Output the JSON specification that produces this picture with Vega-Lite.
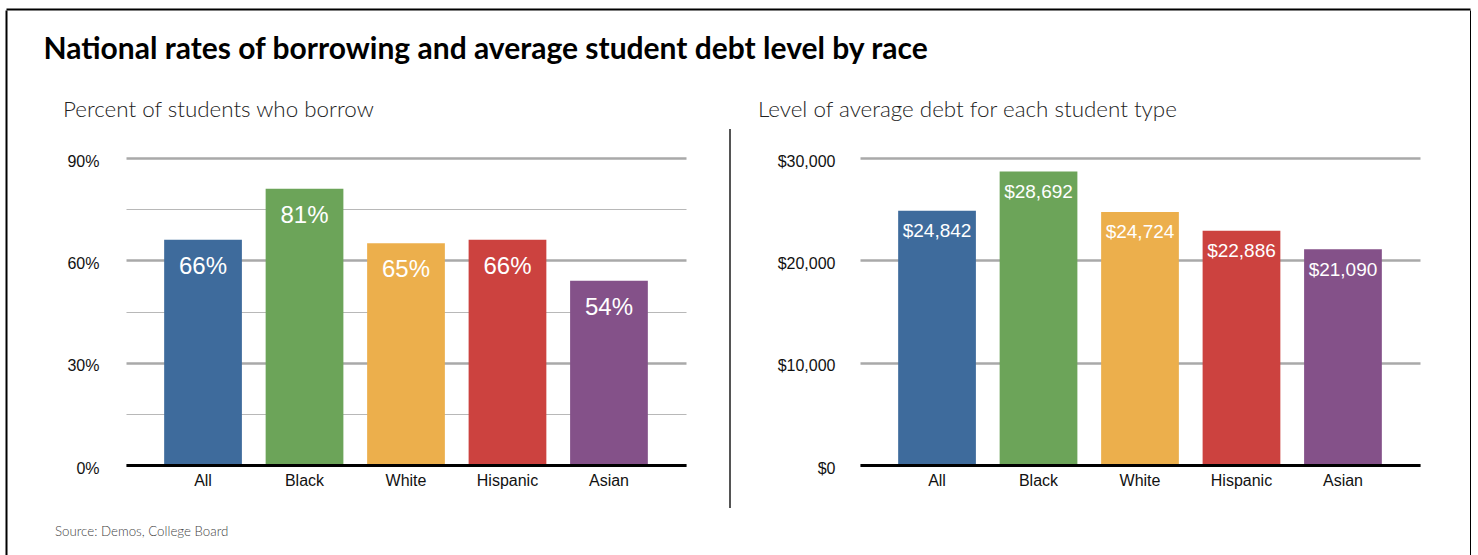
{
  "$schema": "https://vega.github.io/schema/vega-lite/v6.json",
  "background": "white",
  "padding": {"left": 6, "top": 9, "right": 0, "bottom": 0},
  "config": {
    "view": {"stroke": null},
    "axis": {"labelFont": "Liberation Sans", "labelColor": "#111", "ticks": false}
  },
  "datasets": {
    "races": [
      {"race": "All", "pct": 66, "debt": 24842},
      {"race": "Black", "pct": 81, "debt": 28692},
      {"race": "White", "pct": 65, "debt": 24724},
      {"race": "Hispanic", "pct": 66, "debt": 22886},
      {"race": "Asian", "pct": 54, "debt": 21090}
    ]
  },
  "spacing": 0,
  "vconcat": [
    {
      "width": 1464,
      "height": 1,
      "data": {"values": []},
      "mark": {"type": "point", "opacity": 0},
      "encoding": {
        "x": {
          "field": "v",
          "type": "quantitative",
          "scale": {"domain": [0, 1]},
          "axis": {"orient": "top", "domain": true, "domainColor": "#000", "domainWidth": 2, "labels": false, "ticks": false, "grid": false, "title": null}
        }
      }
    },
    {
      "spacing": 36,
      "hconcat": [
        {
          "width": 1,
          "height": 545,
          "data": {"values": []},
          "mark": {"type": "point", "opacity": 0},
          "encoding": {
            "y": {
              "field": "v",
              "type": "quantitative",
              "scale": {"domain": [0, 1]},
              "axis": {"orient": "left", "domain": true, "domainColor": "#000", "domainWidth": 2, "labels": false, "ticks": false, "grid": false, "title": null}
            }
          }
        },
        {
          "spacing": 23,
          "vconcat": [
            {
              "width": 1,
              "height": 1,
              "data": {"values": []},
              "mark": {"type": "point", "opacity": 0},
              "encoding": {}
            },
            {
              "title": {
                "text": "National rates of borrowing and average student debt level by race",
                "anchor": "start",
                "dx": -11,
                "offset": 34,
                "font": "Lato",
                "fontSize": 30,
                "fontWeight": "bold",
                "color": "#000"
              },
              "spacing": 72,
              "hconcat": [
                {
                  "width": 560,
                  "height": 307,
                  "data": {"name": "races"},
                  "title": {
                    "text": "Percent of students who borrow",
                    "anchor": "start",
                    "frame": "group",
                    "dx": -63,
                    "offset": 32,
                    "font": "Lato",
                    "fontWeight": 300,
                    "fontSize": 22.4,
                    "color": "#222"
                  },
                  "encoding": {
                    "x": {
                      "field": "race",
                      "type": "nominal",
                      "sort": ["All", "Black", "White", "Hispanic", "Asian"],
                      "scale": {"paddingInner": 0.234, "paddingOuter": 0.376},
                      "axis": {
                        "title": "Source: Demos, College Board",
                        "titleFont": "Lato",
                        "titleFontWeight": 300,
                        "titleFontSize": 13.3,
                        "titleColor": "#444",
                        "titleAnchor": "start",
                        "titleAlign": "left",
                        "titleBaseline": "alphabetic",
                        "titleX": -71.5,
                        "titleY": 70,
                        "labelAngle": 0,
                        "labelFontSize": 16,
                        "labelPadding": 7,
                        "domain": true,
                        "domainColor": "#000",
                        "domainWidth": 3,
                        "zindex": 1
                      }
                    },
                    "y": {
                      "field": "pct",
                      "type": "quantitative",
                      "scale": {"domain": [0, 90], "nice": false},
                      "axis": {
                        "title": null,
                        "values": [0, 15, 30, 45, 60, 75, 90],
                        "labelExpr": "datum.value % 30 === 0 ? datum.value + '%' : ''",
                        "labelFontSize": 16,
                        "labelPadding": 27,
                        "labelOffset": 3,
                        "domain": false,
                        "grid": true,
                        "gridColor": {"condition": {"test": "datum.value % 30 === 0", "value": "#a9a9a9"}, "value": "#b8b8b8"},
                        "gridWidth": {"condition": {"test": "datum.value % 30 === 0", "value": 2.5}, "value": 1.2},
                        "gridOpacity": 1
                      }
                    }
                  },
                  "layer": [
                    {
                      "mark": {"type": "bar"},
                      "encoding": {
                        "color": {
                          "field": "race",
                          "type": "nominal",
                          "scale": {
                            "domain": ["All", "Black", "White", "Hispanic", "Asian"],
                            "range": ["#3e6b9c", "#6ca459", "#ecaf4c", "#cc423f", "#845189"]
                          },
                          "legend": null
                        }
                      }
                    },
                    {
                      "mark": {
                        "type": "text",
                        "baseline": "alphabetic",
                        "dy": 34,
                        "color": "white",
                        "fontSize": 24,
                        "font": "Liberation Sans",
                        "text": {"expr": "datum.pct + '%'"}
                      }
                    }
                  ]
                },
                {
                  "width": 560,
                  "height": 307,
                  "title": {
                    "text": "Level of average debt for each student type",
                    "anchor": "start",
                    "frame": "group",
                    "dx": -102,
                    "offset": 32,
                    "font": "Lato",
                    "fontWeight": 300,
                    "fontSize": 22.4,
                    "color": "#222"
                  },
                  "resolve": {"scale": {"y": "independent"}, "axis": {"y": "independent"}},
                  "layer": [
                    {
                      "data": {"name": "races"},
                      "encoding": {
                        "x": {
                          "field": "race",
                          "type": "nominal",
                          "sort": ["All", "Black", "White", "Hispanic", "Asian"],
                          "scale": {"paddingInner": 0.234, "paddingOuter": 0.376},
                          "axis": {
                            "title": null,
                            "labelAngle": 0,
                            "labelFontSize": 16,
                            "labelPadding": 7,
                            "domain": true,
                            "domainColor": "#000",
                            "domainWidth": 3,
                            "zindex": 1
                          }
                        },
                        "y": {
                          "field": "debt",
                          "type": "quantitative",
                          "scale": {"domain": [0, 30000], "nice": false},
                          "axis": {
                            "orient": "left",
                            "title": null,
                            "values": [0, 10000, 20000, 30000],
                            "format": "$,.0f",
                            "labelFontSize": 16,
                            "labelPadding": 25,
                            "labelOffset": 3,
                            "domain": false,
                            "grid": true,
                            "gridColor": "#a9a9a9",
                            "gridWidth": 2.5,
                            "gridOpacity": 1
                          }
                        }
                      },
                      "layer": [
                        {
                          "mark": {"type": "bar"},
                          "encoding": {
                            "color": {
                              "field": "race",
                              "type": "nominal",
                              "scale": {
                                "domain": ["All", "Black", "White", "Hispanic", "Asian"],
                                "range": ["#3e6b9c", "#6ca459", "#ecaf4c", "#cc423f", "#845189"]
                              },
                              "legend": null
                            }
                          }
                        },
                        {
                          "mark": {
                            "type": "text",
                            "baseline": "alphabetic",
                            "dy": 26.5,
                            "color": "white",
                            "fontSize": 19,
                            "font": "Liberation Sans"
                          },
                          "encoding": {
                            "text": {"field": "debt", "type": "quantitative", "format": "$,.0f"}
                          }
                        }
                      ]
                    },
                    {
                      "data": {"values": []},
                      "mark": {"type": "point", "opacity": 0},
                      "encoding": {
                        "y": {
                          "field": "v",
                          "type": "quantitative",
                          "scale": {"domain": [0, 1], "range": [379, 0]},
                          "axis": {
                            "orient": "left",
                            "offset": 101,
                            "translate": -29,
                            "domain": true,
                            "domainColor": "#555",
                            "domainWidth": 2,
                            "labels": false,
                            "ticks": false,
                            "grid": false,
                            "title": null
                          }
                        }
                      }
                    }
                  ]
                }
              ]
            }
          ]
        },
        {
          "width": 14.5,
          "height": 545,
          "data": {"values": []},
          "mark": {"type": "point", "opacity": 0},
          "encoding": {
            "y": {
              "field": "v",
              "type": "quantitative",
              "scale": {"domain": [0, 1]},
              "axis": {"orient": "right", "domain": true, "domainColor": "#000", "domainWidth": 2, "labels": false, "ticks": false, "grid": false, "title": null}
            }
          }
        }
      ]
    }
  ]
}
